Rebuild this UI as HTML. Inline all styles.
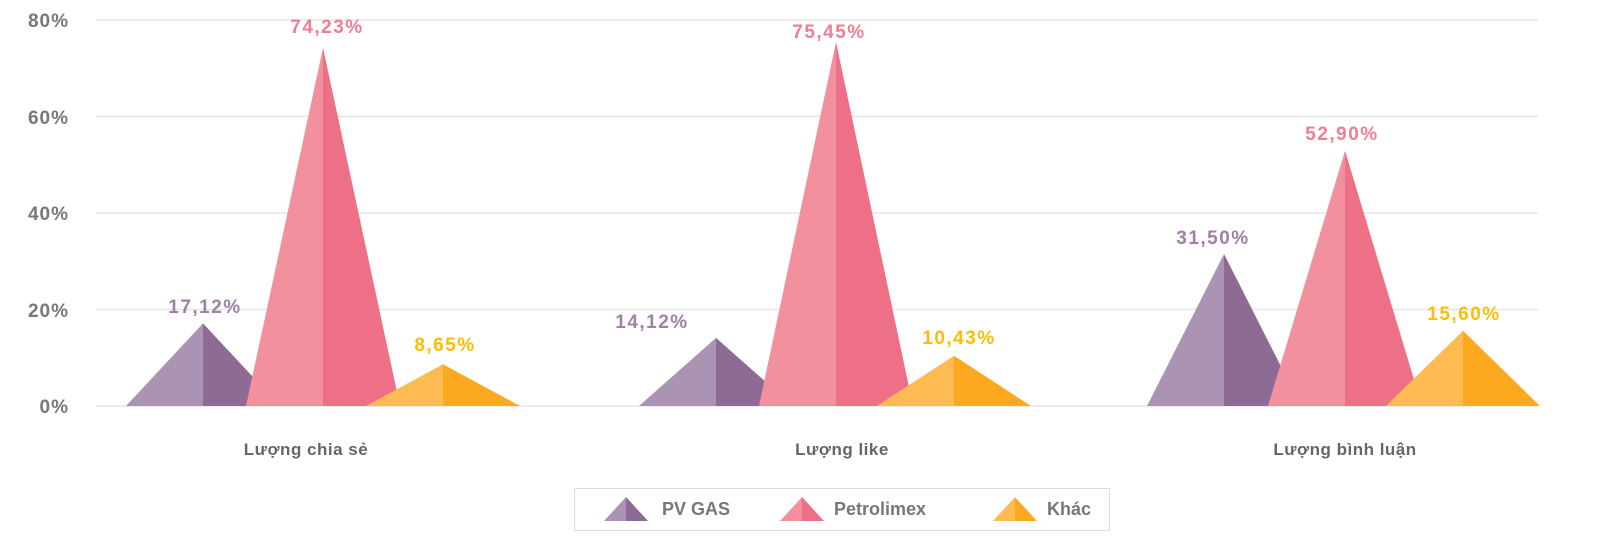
<!DOCTYPE html>
<html><head><meta charset="utf-8"><style>
body{margin:0;background:#fff;}
svg text{font-family:"Liberation Sans",sans-serif;}
</style></head><body>
<svg width="1600" height="552" viewBox="0 0 1600 552" xmlns="http://www.w3.org/2000/svg">
<g stroke="#e6e6e6" stroke-width="1.5">
<line x1="96" y1="20" x2="1538" y2="20"/>
<line x1="96" y1="116.5" x2="1538" y2="116.5"/>
<line x1="96" y1="213" x2="1538" y2="213"/>
<line x1="96" y1="309.5" x2="1538" y2="309.5"/>
<line x1="96" y1="406" x2="1538" y2="406"/>
</g>
<g fill="#777" font-size="19" font-weight="bold" text-anchor="end" letter-spacing="1">
<text x="69" y="27">80%</text>
<text x="69" y="124">60%</text>
<text x="69" y="220">40%</text>
<text x="69" y="317">20%</text>
<text x="69" y="413">0%</text>
</g>
<polygon points="126,406 203,323.4 203,406" fill="#ab93b3"/><polygon points="203,323.4 280,406 203,406" fill="#8e6b95"/>
<polygon points="246,406 323,47.8 323,406" fill="#f2909e"/><polygon points="323,47.8 400,406 323,406" fill="#ee7086"/>
<polygon points="366,406 443,364.3 443,406" fill="#fdbb52"/><polygon points="443,364.3 520,406 443,406" fill="#fca920"/>
<polygon points="639,406 716,337.9 716,406" fill="#ab93b3"/><polygon points="716,337.9 793,406 716,406" fill="#8e6b95"/>
<polygon points="759,406 836,42 836,406" fill="#f2909e"/><polygon points="836,42 913,406 836,406" fill="#ee7086"/>
<polygon points="877,406 954,355.7 954,406" fill="#fdbb52"/><polygon points="954,355.7 1031,406 954,406" fill="#fca920"/>
<polygon points="1147,406 1224,254 1224,406" fill="#ab93b3"/><polygon points="1224,254 1301,406 1224,406" fill="#8e6b95"/>
<polygon points="1268,406 1345,150.8 1345,406" fill="#f2909e"/><polygon points="1345,150.8 1422,406 1345,406" fill="#ee7086"/>
<polygon points="1386,406 1463,330.7 1463,406" fill="#fdbb52"/><polygon points="1463,330.7 1540,406 1463,406" fill="#fca920"/>
<g font-size="19" font-weight="bold" text-anchor="middle" letter-spacing="1.5">
<text x="205" y="313" fill="#a07fa8">17,12%</text>
<text x="327" y="33" fill="#f27d92">74,23%</text>
<text x="445" y="351" fill="#fbbd06">8,65%</text>
<text x="652" y="328" fill="#a07fa8">14,12%</text>
<text x="829" y="38" fill="#f27d92">75,45%</text>
<text x="959" y="344" fill="#fbbd06">10,43%</text>
<text x="1213" y="244" fill="#a07fa8">31,50%</text>
<text x="1342" y="140" fill="#f27d92">52,90%</text>
<text x="1464" y="320" fill="#fbbd06">15,60%</text>
</g>
<g fill="#666" font-size="17" font-weight="bold" text-anchor="middle" letter-spacing="0.5">
<text x="306" y="455">Lượng chia sẻ</text>
<text x="842" y="455">Lượng like</text>
<text x="1345" y="455">Lượng bình luận</text>
</g>
<rect x="574.5" y="488.5" width="535" height="42" fill="#fff" stroke="#ddd"/>
<polygon points="604,521 626,497 626,521" fill="#ab93b3"/><polygon points="626,497 648,521 626,521" fill="#8e6b95"/>
<polygon points="780,521 802,497 802,521" fill="#f2909e"/><polygon points="802,497 824,521 802,521" fill="#ee7086"/>
<polygon points="993,521 1015,497 1015,521" fill="#fdbb52"/><polygon points="1015,497 1037,521 1015,521" fill="#fca920"/>
<g fill="#777" font-size="18" font-weight="bold">
<text x="662" y="515">PV GAS</text>
<text x="834" y="515">Petrolimex</text>
<text x="1047" y="515">Khác</text>
</g>
</svg>
</body></html>
